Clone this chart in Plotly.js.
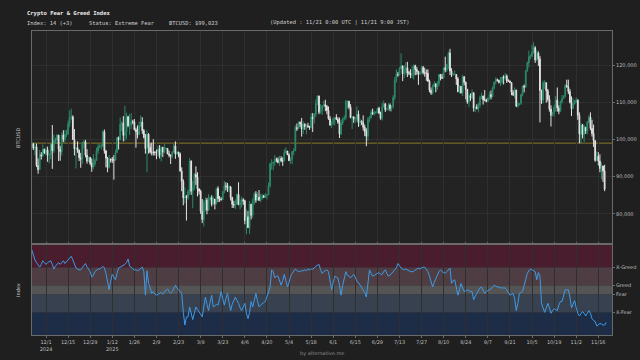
<!DOCTYPE html>
<html>
<head>
<meta charset="utf-8">
<script src="https://cdn.plot.ly/plotly-3.0.1.min.js"></script>
<style>html,body{margin:0;padding:0;background:#1f1f1f;}#chart{width:640px;height:360px;}</style>
</head>
<body>
<div id="chart"></div>
<script>
// ---------- DATA ----------
const startDate = '2024-11-22';
// BTCUSD daily candles (thousands of USD), 2024-11-22 .. 2025-11-20
const openK = [
98.4,98.9,97.7,98.0,93.0,91.9,95.9,95.6,97.4,
96.4,97.2,95.8,96.0,98.7,97.0,99.9,99.9,101.2,97.4,96.7,101.2,100.0,101.4,101.4,104.3,106.1,106.1,100.0,97.5,97.8,97.1,95.1,94.7,98.7,99.4,95.8,94.2,95.2,93.6,92.6,
93.4,94.4,96.9,98.1,98.2,98.3,102.1,96.9,95.0,92.5,94.7,94.5,94.5,94.5,96.5,100.5,99.9,104.1,104.4,101.1,102.0,106.1,103.7,103.9,104.8,104.7,102.6,102.1,101.3,103.7,104.7,
102.4,100.6,97.5,101.4,97.9,96.6,96.6,96.5,96.5,96.5,97.4,95.7,97.9,96.6,97.5,97.6,96.1,95.8,95.5,96.6,98.3,96.1,96.6,96.1,91.5,88.7,84.3,84.7,
84.3,86.0,94.2,86.1,87.2,90.6,89.9,86.7,86.1,80.7,78.5,82.9,83.7,81.0,83.9,84.3,82.6,84.0,82.7,86.8,84.1,84.0,83.8,86.0,87.5,87.4,86.9,87.2,84.4,82.6,82.4,
82.5,85.2,82.5,83.1,83.8,83.5,78.2,79.2,76.3,82.6,79.6,83.4,85.3,83.7,84.5,83.6,84.0,84.9,84.4,85.0,85.1,87.5,93.4,93.7,93.9,94.7,94.6,93.8,94.9,94.3,
94.2,96.5,96.9,95.9,94.3,94.7,96.8,97.0,103.2,102.9,104.6,104.2,102.8,104.1,103.5,103.7,103.5,103.2,106.0,105.6,106.8,109.7,111.7,107.3,107.8,109.0,109.4,108.9,107.8,105.6,103.9,
104.6,105.7,105.9,105.4,104.7,101.5,104.4,105.6,105.8,110.3,110.3,108.7,105.9,106.1,105.5,105.6,106.8,104.6,104.9,104.6,103.3,102.1,100.9,105.4,106.0,107.3,106.9,107.1,107.3,108.4,
107.1,105.7,108.8,109.6,108.0,108.2,109.2,108.3,108.9,111.3,115.9,117.5,117.4,119.1,119.8,117.7,118.7,119.3,117.9,117.9,117.3,117.4,119.9,118.8,118.3,117.6,117.9,119.4,118.0,117.8,117.8,
115.7,113.3,112.5,114.2,115.0,114.1,115.0,117.5,116.7,116.5,119.3,118.7,120.2,123.3,118.4,117.4,117.5,117.5,116.3,112.9,114.3,112.5,116.9,115.4,113.5,110.1,111.8,111.3,112.6,108.4,108.8,
108.3,109.2,111.3,111.7,110.7,110.7,110.2,111.2,112.1,111.5,113.9,115.5,116.1,115.9,115.3,115.4,116.8,116.5,117.1,115.7,115.7,115.3,112.7,112.0,113.3,109.0,109.7,109.7,112.1,114.4,
114.1,118.6,120.6,122.3,122.4,123.5,124.7,121.4,123.3,121.7,113.2,110.6,115.2,115.3,113.1,110.8,108.2,106.5,107.2,108.7,110.6,108.5,107.6,110.1,111.0,111.6,114.5,114.1,112.9,110.0,108.3,
109.6,110.1,110.6,106.5,101.5,103.9,101.3,103.3,102.3,104.7,106.0,103.0,101.6,99.7,94.4,95.5,94.2,92.2,92.9,91.5
];
const highK = [
99.6,98.9,98.6,98.9,94.9,97.2,96.6,98.7,97.5,
97.9,98.1,96.3,99.0,103.9,101.3,100.5,101.4,101.2,98.3,101.9,102.5,102.5,102.6,105.1,107.8,108.3,106.5,102.8,98.0,99.5,97.3,96.4,99.4,99.9,99.9,97.4,95.5,95.2,94.9,96.1,
94.9,97.8,98.9,98.7,98.8,102.5,102.7,97.2,95.3,95.8,94.9,95.3,95.8,97.3,100.7,100.8,105.9,104.9,106.3,109.1,107.2,106.4,106.9,107.1,105.3,105.5,103.2,103.8,104.8,106.5,106.0,
102.8,101.5,102.5,101.7,99.0,99.2,100.1,96.9,97.3,98.3,98.5,98.1,98.0,98.8,97.9,97.7,97.0,96.0,96.9,98.8,99.5,96.9,96.7,96.5,92.5,89.3,87.1,85.1,
86.6,95.0,94.4,88.9,91.0,92.8,91.2,86.9,86.5,84.0,83.6,84.4,84.3,85.3,84.7,85.0,84.7,84.0,87.0,87.4,84.8,84.5,86.1,88.8,88.5,88.3,87.8,87.5,84.6,83.5,83.9,
85.5,88.5,83.9,84.7,84.2,83.8,81.2,80.8,83.5,82.7,84.2,85.8,86.1,85.8,86.4,85.4,85.4,85.1,85.6,85.3,88.4,93.8,94.7,94.0,95.8,95.1,95.2,95.6,95.5,95.2,
97.4,97.9,96.9,96.3,95.2,96.9,97.6,103.8,104.3,104.9,104.9,105.8,104.9,104.4,104.1,104.5,103.7,107.0,107.1,107.1,110.8,111.9,111.8,109.5,109.3,110.4,110.7,109.3,108.9,106.3,104.9,
105.9,105.9,106.8,106.0,105.9,105.3,105.9,106.5,110.6,110.4,110.4,109.5,106.2,106.2,106.0,108.9,107.8,105.6,105.2,106.5,104.0,103.0,106.0,106.3,108.0,108.3,107.7,107.6,108.5,108.8,
107.5,109.8,110.5,109.8,108.4,109.7,109.7,109.2,111.9,116.8,118.9,118.2,119.5,123.2,119.9,120.0,120.8,120.9,118.5,118.9,119.7,120.2,120.1,119.5,118.5,118.3,119.8,119.8,119.3,118.8,118.9,
116.1,114.0,114.8,115.7,115.1,115.7,117.6,117.6,117.7,119.3,122.3,120.3,123.7,124.4,119.2,117.9,118.6,117.6,116.8,114.6,114.4,117.4,117.0,115.6,113.6,112.4,112.4,113.5,112.6,108.9,109.5,
109.9,111.8,112.6,111.8,113.3,111.0,111.3,112.9,113.2,114.3,115.5,116.7,116.4,116.1,116.8,116.9,117.3,117.9,117.5,116.2,115.9,115.4,113.3,114.0,113.4,110.3,109.8,112.3,114.4,114.8,
118.6,121.0,123.9,122.9,125.5,126.2,125.1,124.1,123.7,122.5,113.4,115.8,115.9,115.3,113.6,111.9,109.2,107.5,109.4,111.7,114.0,109.2,110.5,112.0,111.9,114.9,116.1,116.1,113.6,111.6,111.1,
110.6,111.3,110.8,107.3,104.5,104.2,104.0,103.4,105.0,106.6,107.3,105.3,104.0,99.8,96.8,96.6,96.0,93.8,92.9,93.2
];
const lowK = [
97.2,97.2,95.8,92.6,90.8,91.8,94.6,95.4,96.1,
95.7,94.0,93.6,94.7,92.1,96.4,99.0,98.8,94.2,94.3,95.7,99.3,99.2,100.6,101.2,103.3,105.3,100.0,95.7,92.2,96.4,94.2,92.4,93.4,97.6,95.2,93.5,94.0,93.1,91.3,92.0,
92.8,94.3,96.1,97.6,97.3,97.9,96.2,92.5,91.2,92.2,93.8,93.7,89.2,94.3,96.5,97.3,99.9,102.3,99.5,99.5,100.1,103.3,101.2,102.8,104.1,102.5,97.8,100.3,101.3,103.3,101.5,
100.3,96.2,91.2,96.2,96.2,95.7,95.7,95.7,94.7,95.3,94.9,94.1,95.3,96.3,97.3,96.1,95.2,93.4,95.0,96.4,94.8,95.9,95.2,91.4,86.1,82.3,82.8,78.2,
83.8,85.1,85.1,81.5,86.4,87.8,84.7,85.2,80.0,77.5,76.6,80.7,79.9,80.8,83.6,82.0,82.4,81.2,82.6,83.2,83.2,83.6,83.8,85.5,86.3,85.9,85.9,83.6,81.6,81.6,81.3,
82.4,82.3,81.2,81.7,82.4,77.2,74.5,76.2,74.6,78.5,78.9,82.5,83.0,83.7,83.6,83.1,83.9,84.3,84.4,83.9,85.1,87.1,91.9,91.7,92.9,93.9,93.6,92.9,93.9,92.9,
94.2,96.3,95.8,94.2,93.5,93.4,95.8,96.9,102.3,102.9,103.3,100.8,101.5,102.6,101.4,103.1,102.6,103.0,102.0,104.3,106.1,109.3,106.8,106.9,106.6,108.7,107.6,106.8,105.3,103.7,103.1,
103.9,103.8,105.2,104.2,100.4,101.2,103.9,105.1,105.3,108.4,108.1,105.7,102.8,104.5,104.5,104.9,103.4,103.6,103.9,102.4,100.9,98.2,99.6,104.7,105.6,106.6,106.4,106.9,107.2,106.8,
105.3,105.1,108.6,107.4,107.8,107.8,107.6,107.5,108.4,110.6,115.3,116.9,117.3,118.9,115.7,116.6,117.4,116.8,117.3,116.5,116.5,116.1,117.3,117.4,114.7,117.4,117.8,117.5,116.9,115.8,115.5,
112.7,112.0,112.1,114.1,112.7,113.3,114.3,115.9,116.3,116.5,118.1,118.2,118.9,117.3,116.8,117.2,117.3,114.7,112.7,112.4,112.4,111.7,114.6,110.8,109.6,108.7,110.4,110.9,107.5,107.4,108.1,
107.3,108.6,110.9,109.4,110.3,110.0,110.2,110.7,110.8,111.4,113.4,114.8,115.6,115.1,114.4,114.9,114.8,116.1,115.2,115.5,115.2,111.9,111.7,111.1,108.7,108.6,109.1,109.3,111.6,112.7,
113.9,118.2,119.4,121.6,122.2,123.1,120.6,121.1,119.8,104.6,109.6,109.7,113.6,109.9,110.2,107.5,103.5,106.3,106.1,107.5,107.5,106.8,107.6,109.7,110.9,111.3,114.0,112.2,109.7,106.3,108.3,
109.4,109.8,105.3,99.0,98.9,100.3,99.3,101.5,101.4,104.3,102.5,100.8,98.0,94.0,94.4,93.0,91.2,89.3,88.6,86.1
];
const closeK = [
98.9,97.7,98.0,93.0,91.9,95.9,95.6,97.4,96.4,
97.2,95.8,96.0,98.7,97.0,99.9,99.9,101.2,97.4,96.7,101.2,100.0,101.4,101.4,104.3,106.1,106.1,100.0,97.5,97.8,97.1,95.1,94.7,98.7,99.4,95.8,94.2,95.2,93.6,92.6,93.4,
94.4,96.9,98.1,98.2,98.3,102.1,96.9,95.0,92.5,94.7,94.5,94.5,94.5,96.5,100.5,99.9,104.1,104.4,101.1,102.0,106.1,103.7,103.9,104.8,104.7,102.6,102.1,101.3,103.7,104.7,102.4,
100.6,97.5,101.4,97.9,96.6,96.6,96.5,96.5,96.5,97.4,95.7,97.9,96.6,97.5,97.6,96.1,95.8,95.5,96.6,98.3,96.1,96.6,96.1,91.5,88.7,84.3,84.7,84.3,
86.0,94.2,86.1,87.2,90.6,89.9,86.7,86.1,80.7,78.5,82.9,83.7,81.0,83.9,84.3,82.6,84.0,82.7,86.8,84.1,84.0,83.8,86.0,87.5,87.4,86.9,87.2,84.4,82.6,82.4,82.5,
85.2,82.5,83.1,83.8,83.5,78.2,79.2,76.3,82.6,79.6,83.4,85.3,83.7,84.5,83.6,84.0,84.9,84.4,85.0,85.1,87.5,93.4,93.7,93.9,94.7,94.6,93.8,94.9,94.3,94.2,
96.5,96.9,95.9,94.3,94.7,96.8,97.0,103.2,102.9,104.6,104.2,102.8,104.1,103.5,103.7,103.5,103.2,106.0,105.6,106.8,109.7,111.7,107.3,107.8,109.0,109.4,108.9,107.8,105.6,103.9,104.6,
105.7,105.9,105.4,104.7,101.5,104.4,105.6,105.8,110.3,110.3,108.7,105.9,106.1,105.5,105.6,106.8,104.6,104.9,104.6,103.3,102.1,100.9,105.4,106.0,107.3,106.9,107.1,107.3,108.4,107.1,
105.7,108.8,109.6,108.0,108.2,109.2,108.3,108.9,111.3,115.9,117.5,117.4,119.1,119.8,117.7,118.7,119.3,117.9,117.9,117.3,117.4,119.9,118.8,118.3,117.6,117.9,119.4,118.0,117.8,117.8,115.7,
113.3,112.5,114.2,115.0,114.1,115.0,117.5,116.7,116.5,119.3,118.7,120.2,123.3,118.4,117.4,117.5,117.5,116.3,112.9,114.3,112.5,116.9,115.4,113.5,110.1,111.8,111.3,112.6,108.4,108.8,108.3,
109.2,111.3,111.7,110.7,110.7,110.2,111.2,112.1,111.5,113.9,115.5,116.1,115.9,115.3,115.4,116.8,116.5,117.1,115.7,115.7,115.3,112.7,112.0,113.3,109.0,109.7,109.7,112.1,114.4,114.1,
118.6,120.6,122.3,122.4,123.5,124.7,121.4,123.3,121.7,113.2,110.6,115.2,115.3,113.1,110.8,108.2,106.5,107.2,108.7,110.6,108.5,107.6,110.1,111.0,111.6,114.5,114.1,112.9,110.0,108.3,109.6,
110.1,110.6,106.5,101.5,103.9,101.3,103.3,102.3,104.7,106.0,103.0,101.6,99.7,94.4,95.5,94.2,92.2,92.9,91.5,86.6
];
// Fear & Greed index, daily 2024-11-22 .. 2025-11-21
const fngIndex = [
94,88,83,80,78,75,78,82,80,78, 80,81,82,78,73,76,78,80,78,80,
82,79,81,83,85,87,83,78,74,73, 72,72,74,76,79,75,72,70,64,66,
70,72,73,73,74,76,74,68,60,50, 60,67,64,61,68,74,75,76,77,78,
80,84,76,75,73,72,72,71,72,74, 75,70,44,71,57,52,46,48,45,44,
45,46,47,45,48,49,51,48,46,48, 52,55,52,50,48,46,25,11,20,20,
31,25,17,24,31,28,26,23,20,30, 42,34,27,36,44,31,32,34,33,40,
48,40,33,40,46,36,27,34,38,42, 38,35,30,27,31,35,24,18,25,37,
31,38,46,38,31,33,35,36,37,42, 47,53,72,70,63,65,65,60,55,60,
67,60,53,58,65,68,71,73,71,70, 70,71,71,72,71,73,72,73,73,74,
76,77,78,72,68,70,71,72,70,60, 50,58,65,64,63,55,44,55,62,70,
66,65,63,65,67,64,59,58,55,53, 50,47,42,58,72,68,65,66,67,68,
69,67,67,70,72,68,65,66,68,70, 71,74,79,76,74,73,72,73,72,71,
70,70,70,72,73,74,73,74,75,75, 73,70,65,60,53,58,63,66,70,72,
70,69,68,70,72,74,57,60,61,52, 44,50,57,52,48,49,50,49,48,48,
39,43,46,50,52,53,49,46,48,49, 50,51,53,55,54,53,53,52,52,52,
52,50,47,44,45,46,40,27,35,46, 47,48,55,63,68,71,73,72,71,70,
61,69,65,35,30,25,30,35,30,24, 27,29,28,27,33,37,37,45,50,50,
50,42,30,34,38,30,24,21,24,26, 24,21,24,27,24,18,16,15,10,11,
13,12,11,11,14
];
const currentPrice = 99023;
const priceTicks = [80000, 90000, 100000, 110000, 120000];
const zoneTickVals = [25, 45, 55, 75];
const zoneTickText = ['X-Fear', 'Fear', 'Greed', 'X-Greed'];
const zoneEdges = [0, 25, 45, 55, 75, 100];
const zoneColors = ['#1d2d47', '#38414f', '#545454', '#4e3e44', '#4a1d2e'];
const dateTickVals = ['2024-12-01','2024-12-15','2024-12-29','2025-01-12','2025-01-26','2025-02-09','2025-02-23','2025-03-09','2025-03-23','2025-04-06','2025-04-20','2025-05-04','2025-05-18','2025-06-01','2025-06-15','2025-06-29','2025-07-13','2025-07-27','2025-08-10','2025-08-24','2025-09-07','2025-09-21','2025-10-05','2025-10-19','2025-11-02','2025-11-16'];
const dateTickText = ['12/1<br>2024','12/15','12/29','1/12<br>2025','1/26','2/9','2/23','3/9','3/23','4/6','4/20','5/4','5/18','6/1','6/15','6/29','7/13','7/27','8/10','8/24','9/7','9/21','10/5','10/19','11/2','11/16'];
const header = {
  title: 'Crypto Fear & Greed Index',
  index: 'Index: 14 (+3)',
  status: 'Status: Extreme Fear',
  price: 'BTCUSD: $99,023',
  updated: '(Updated : 11/21 0:00 UTC | 11/21 9:00 JST)'
};

// ---------- BUILD ----------
function dayList(start, n) {
  const out = [];
  const t0 = Date.parse(start + 'T00:00:00Z');
  for (let i = 0; i < n; i++) out.push(new Date(t0 + i * 86400000).toISOString().slice(0, 10));
  return out;
}
const candleDates = dayList(startDate, closeK.length);
const fngDates = dayList(startDate, fngIndex.length);
const k = a => a.map(v => v * 1000);

const W = 640, H = 360, ML = 32, MR = 28, MT = 31, MB = 25;
const PW = W - ML - MR, PH = H - MT - MB;
const px = x => (x - ML) / PW;
const py = y => (H - MB - y) / PH;

const tickFont = {family: 'DejaVu Sans, sans-serif', size: 5, color: '#bdbdbd'};
const mono = 'DejaVu Sans Mono, monospace';

const traces = [
  {
    type: 'candlestick', x: candleDates,
    open: k(openK), high: k(highK), low: k(lowK), close: k(closeK),
    xaxis: 'x', yaxis: 'y',
    increasing: {line: {color: '#2a8a69', width: 1}, fillcolor: '#2a8a69'},
    decreasing: {line: {color: '#e4e4e4', width: 1}, fillcolor: '#e4e4e4'},
    whiskerwidth: 0, showlegend: false, hoverinfo: 'skip'
  },
  {
    type: 'scatter', mode: 'lines', x: fngDates, y: fngIndex,
    xaxis: 'x', yaxis: 'y2',
    line: {color: '#3f9ae6', width: 1}, showlegend: false, hoverinfo: 'skip'
  }
];

const shapes = [];
for (let i = 0; i < zoneColors.length; i++) {
  shapes.push({type: 'rect', xref: 'paper', yref: 'y2', x0: 0, x1: 1,
    y0: zoneEdges[i], y1: zoneEdges[i + 1], fillcolor: zoneColors[i],
    line: {width: 0}, layer: 'below'});
}
shapes.push({type: 'line', xref: 'paper', yref: 'y', x0: 0, x1: 1,
  y0: currentPrice, y1: currentPrice, line: {color: 'rgba(170,150,40,0.75)', width: 1}, layer: 'below'});

const ann = (text, x, y, opts) => Object.assign({
  text, xref: 'paper', yref: 'paper', x: px(x), y: py(y),
  xanchor: 'left', yanchor: 'middle', showarrow: false,
  font: {family: mono, size: 5.4, color: '#d0d0d0'}
}, opts || {});

const annotations = [
  ann('<b>' + header.title + '</b>', 25, 13.5, {font: {family: mono, size: 5.5, color: '#ededed'}}),
  ann(header.index, 25, 22.7),
  ann(header.status, 86.5, 22.7),
  ann(header.price, 166.5, 22.7),
  ann(header.updated, 267.5, 22.7),
  ann('BTCUSD', 18, 138, {xanchor: 'center', textangle: -90, font: {family: 'DejaVu Sans, sans-serif', size: 5, color: '#c8c8c8'}}),
  ann('Index', 18, 290, {xanchor: 'center', textangle: -90, font: {family: 'DejaVu Sans, sans-serif', size: 5, color: '#c8c8c8'}}),
  ann('by alternative.me', 322, 353, {xanchor: 'center', font: {family: 'DejaVu Sans, sans-serif', size: 5, color: '#8a8a8a'}})
];

const layout = {
  width: W, height: H,
  margin: {l: ML, r: MR, t: MT, b: MB, pad: 0},
  paper_bgcolor: '#1f1f1f', plot_bgcolor: '#232323',
  showlegend: false,
  xaxis: {
    type: 'date', anchor: 'y2',
    range: ['2024-11-22 03:00', '2025-11-24 16:00'],
    tickmode: 'array', tickvals: dateTickVals, ticktext: dateTickText,
    tickfont: tickFont, ticks: 'outside', ticklen: 2, tickcolor: '#6a6a6a',
    showgrid: true, gridcolor: '#2f2f2f', gridwidth: 1,
    showline: true, linecolor: '#6a6a6a', linewidth: 1, mirror: 'all',
    zeroline: false, rangeslider: {visible: false}, fixedrange: true
  },
  yaxis: {
    domain: [py(243), 1], anchor: 'x', side: 'right',
    range: [72160, 129190],
    tickmode: 'array', tickvals: priceTicks, tickformat: ',',
    tickfont: tickFont, ticks: 'outside', ticklen: 2, tickcolor: '#6a6a6a',
    showgrid: true, gridcolor: '#2f2f2f', gridwidth: 1,
    showline: true, linecolor: '#6a6a6a', linewidth: 1, mirror: true,
    zeroline: false, fixedrange: true
  },
  yaxis2: {
    domain: [0, py(244.5)], anchor: 'x', side: 'right',
    range: [0, 100],
    tickmode: 'array', tickvals: zoneTickVals, ticktext: zoneTickText,
    tickfont: tickFont, ticks: 'outside', ticklen: 2, tickcolor: '#6a6a6a',
    showgrid: false,
    showline: true, linecolor: '#6a6a6a', linewidth: 1, mirror: true,
    zeroline: false, fixedrange: true
  },
  shapes, annotations
};

Plotly.newPlot('chart', traces, layout, {staticPlot: true, displayModeBar: false});
</script>
</body>
</html>
